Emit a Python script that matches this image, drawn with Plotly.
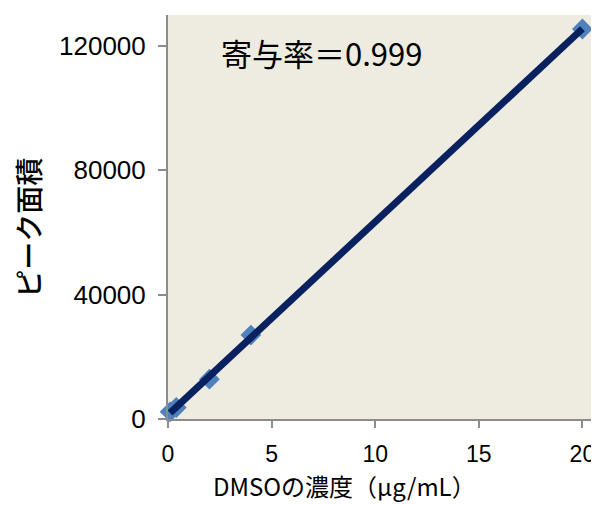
import numpy as np
import plotly.graph_objects as go

# Data
conc = [0.1, 0.4, 2, 4, 20]                 # DMSO concentration (µg/mL)
area = [2300, 3700, 12800, 27000, 125500]   # peak area
x_ticks = [0, 5, 10, 15, 20]
y_ticks = [0, 40000, 80000, 120000]
r2_label = "寄与率＝0.999"
x_title = "DMSOの濃度（μg/mL）"
y_title = "ピーク面積"

# linear trendline from the data
slope, intercept = np.polyfit(conc, area, 1)
trend_x = [min(conc), max(conc)]
trend_y = [slope * v + intercept for v in trend_x]

fig = go.Figure()
fig.add_trace(go.Scatter(
    x=conc, y=area, mode="markers",
    marker=dict(symbol="diamond", size=16, color="#4F81BD", line=dict(width=0)),
    cliponaxis=False, showlegend=False, hoverinfo="skip"))
fig.add_trace(go.Scatter(
    x=trend_x, y=trend_y, mode="lines",
    line=dict(color="#0A2160", width=7),
    showlegend=False, hoverinfo="skip"))

font_lat = "Liberation Sans"
font_jp = "Noto Sans CJK JP"

# page body has an 8px margin, so the figure is sized to fit the rest of the window
fig.update_layout(
    width=591, height=497,
    margin=dict(l=160, r=0, t=7, b=86),
    paper_bgcolor="white", plot_bgcolor="#EEEBE0",
    font=dict(family=font_lat, color="black", size=24),
    xaxis=dict(
        range=[0, 20.8], tickvals=x_ticks, ticktext=[str(v) for v in x_ticks],
        automargin=False,
        showgrid=False, zeroline=False, showline=True, linecolor="#8C8C8C", linewidth=2,
        ticks="outside", ticklen=7, tickwidth=2, tickcolor="#8C8C8C",
        ticklabelstandoff=6,
        tickfont=dict(size=23, family=font_lat),
    ),
    yaxis=dict(
        range=[0, 130000], tickvals=y_ticks, ticktext=[str(v) for v in y_ticks],
        automargin=False,
        showgrid=False, zeroline=False, showline=True, linecolor="#8C8C8C", linewidth=2,
        ticks="outside", ticklen=8, tickwidth=2, tickcolor="#8C8C8C",
        ticklabelstandoff=7,
        tickfont=dict(size=26, family=font_lat),
    ),
    annotations=[
        dict(text=r2_label, xref="paper", yref="paper", x=0.355, y=0.908,
             showarrow=False, font=dict(size=31, family=font_jp),
             xanchor="center", yanchor="middle"),
        dict(text=x_title, xref="paper", yref="paper", x=0.41, y=-0.165,
             showarrow=False, font=dict(size=24, family=font_jp),
             xanchor="center", yanchor="middle", borderpad=0),
        dict(text=y_title, xref="paper", yref="paper", x=-0.325, y=0.473,
             showarrow=False, textangle=-90, font=dict(size=28, family=font_jp, weight=500),
             xanchor="center", yanchor="middle", borderpad=0),
    ],
)

fig.write_html("out.html")
